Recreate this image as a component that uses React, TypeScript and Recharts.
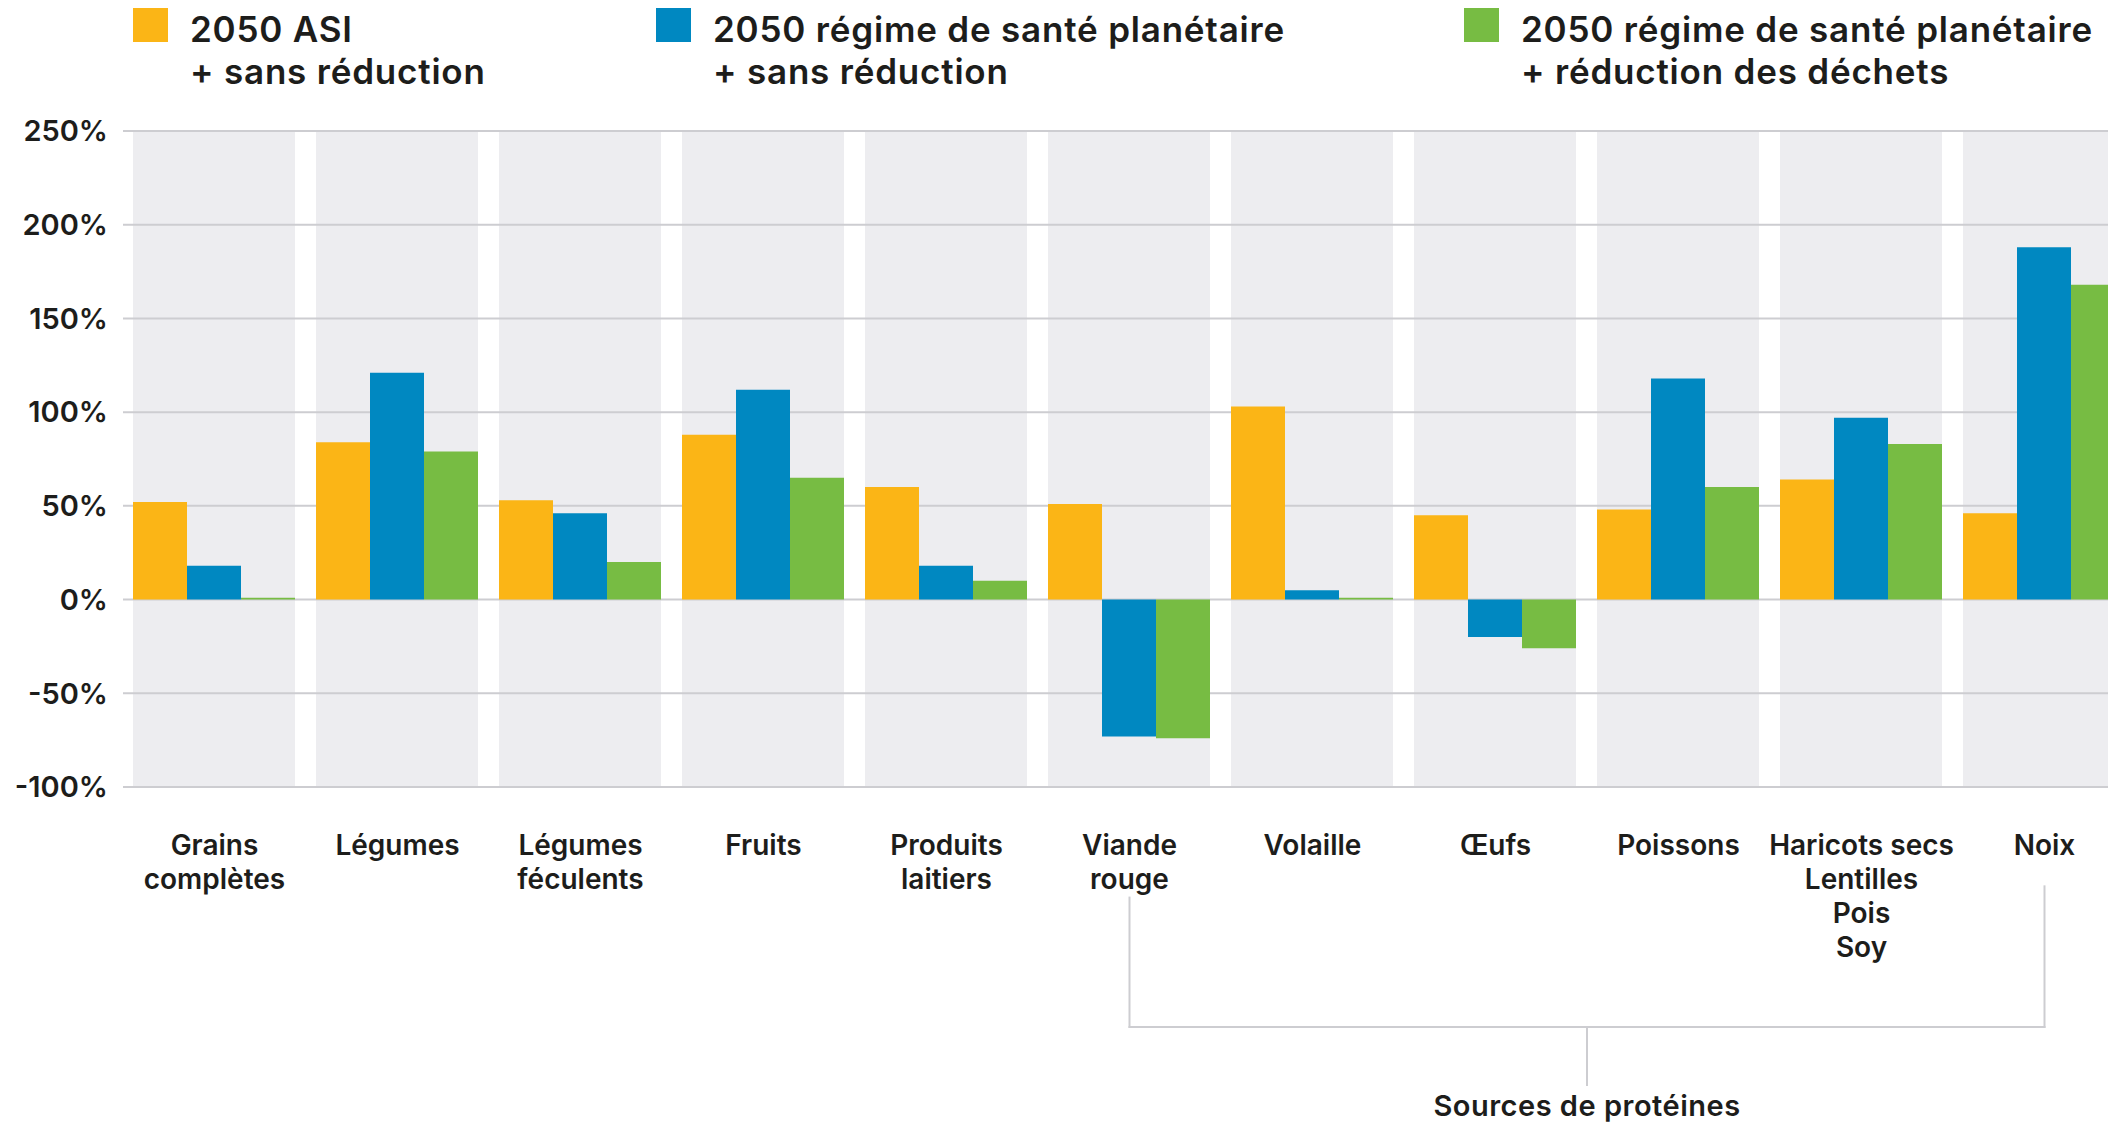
import { BarChart, Bar, XAxis, YAxis, CartesianGrid, ReferenceLine } from 'recharts'

const CATEGORIES = [
    'Grains\ncomplètes',
    'Légumes',
    'Légumes\nféculents',
    'Fruits',
    'Produits\nlaitiers',
    'Viande\nrouge',
    'Volaille',
    'Œufs',
    'Poissons',
    'Haricots secs\nLentilles\nPois\nSoy',
    'Noix',
]

// % change vs. 2010
const ASI_NO_REDUCTION = [52, 84, 53, 88, 60, 51, 103, 45, 48, 64, 46]
const PLANETARY_NO_REDUCTION = [18, 121, 46, 112, 18, -73, 5, -20, 118, 97, 188]
const PLANETARY_WASTE_REDUCTION = [1, 79, 20, 65, 10, -74, 1, -26, 60, 83, 168]

const Y_TICKS = [-100, -50, 0, 50, 100, 150, 200, 250]

// "Sources de protéines" bracket, in y-axis units below the plot
const PROTEIN_FIRST = CATEGORIES[5]
const PROTEIN_LAST = CATEGORIES[10]
const PROTEIN_CENTER = CATEGORIES[7] // the bracket stem sits at the end of this band
const BRACKET_LEFT_TOP = -159
const BRACKET_RIGHT_TOP = -153
const BRACKET_BAR = -228
const BRACKET_STEM_END = -259

const ORANGE = '#fbb516'
const BLUE = '#0088c1'
const GREEN = '#77bc43'
const BAND = '#ededf0'
const GRID = '#cdcdd1'
const INK = '#1d1d1b'
const FONT = 'Inter, "Noto Sans", sans-serif'

const SERIES = [
    { key: 'asi', color: ORANGE, legendX: 125, lines: ['2050 ASI', '+ sans réduction'] },
    { key: 'planetary', color: BLUE, legendX: 648, lines: ['2050 régime de santé planétaire', '+ sans réduction'] },
    { key: 'planetaryWaste', color: GREEN, legendX: 1456, lines: ['2050 régime de santé planétaire', '+ réduction des déchets'] },
]

const rows = CATEGORIES.map((name, i) => ({
    name,
    asi: ASI_NO_REDUCTION[i],
    planetary: PLANETARY_NO_REDUCTION[i],
    planetaryWaste: PLANETARY_WASTE_REDUCTION[i],
}))

const CHART_W = 2128
const CHART_H = 1119
const MARGIN = { top: 123, right: 0, bottom: 0, left: 0 }
const Y_AXIS_W = 115
const X_AXIS_H = 340

function formatPercent(value: number) {
    return `${value}%`
}

function CategoryTick({ x, y, payload }: any) {
    const lines = String(payload.value).split('\n')
    return (
        <text x={x} y={y} textAnchor="middle" fill={INK} fontSize={28} fontWeight={600} fontFamily={FONT}>
            {lines.map((line, i) => (
                <tspan key={i} x={x} dy={i === 0 ? 68 : 34}>
                    {line}
                </tspan>
            ))}
        </text>
    )
}

function Legend() {
    return (
        <>
            {SERIES.map((s) => (
                <div key={s.key} style={{ position: 'absolute', left: s.legendX, top: 0 }}>
                    <div style={{ position: 'absolute', left: 0, top: 0, width: 35, height: 34, background: s.color }} />
                    <div
                        style={{
                            position: 'absolute',
                            left: 57,
                            top: 0,
                            whiteSpace: 'nowrap',
                            fontSize: 35,
                            lineHeight: '42px',
                            fontWeight: 600,
                            letterSpacing: 0.8,
                            color: INK,
                        }}
                    >
                        {s.lines.map((line) => (
                            <div key={line}>{line}</div>
                        ))}
                    </div>
                </div>
            ))}
        </>
    )
}

const bracketStroke = { stroke: GRID, strokeWidth: 2, strokeLinecap: 'square' as const }

export default function App() {
    return (
        <div style={{ position: 'relative', width: 2108, height: 1119, overflow: 'hidden', fontFamily: FONT }}>
            {/* grey category bands sit underneath the grid */}
            <div style={{ position: 'absolute', left: 0, top: 0 }}>
                <BarChart width={CHART_W} height={CHART_H} data={rows} margin={MARGIN} barCategoryGap={10} barGap={0}>
                    <XAxis dataKey="name" height={X_AXIS_H} interval={0} tick={false} axisLine={false} tickLine={false} />
                    <YAxis width={Y_AXIS_W} domain={[-100, 250]} ticks={Y_TICKS} tick={false} axisLine={false} tickLine={false} />
                    {SERIES.map((s) => (
                        <Bar key={s.key} dataKey={s.key} fill="transparent" background={{ fill: BAND }} isAnimationActive={false} />
                    ))}
                </BarChart>
            </div>

            <div style={{ position: 'absolute', left: 0, top: 0 }}>
                <BarChart width={CHART_W} height={CHART_H} data={rows} margin={MARGIN} barCategoryGap={10} barGap={0}>
                    <CartesianGrid vertical={false} stroke={GRID} strokeWidth={2} />
                    <XAxis
                        dataKey="name"
                        height={X_AXIS_H}
                        interval={0}
                        axisLine={false}
                        tickLine={false}
                        tickSize={0}
                        tickMargin={0}
                        tick={<CategoryTick />}
                    />
                    <YAxis
                        width={Y_AXIS_W}
                        domain={[-100, 250]}
                        ticks={Y_TICKS}
                        axisLine={false}
                        tickLine={false}
                        tickSize={0}
                        tickMargin={15}
                        tickFormatter={formatPercent}
                        tick={{ fill: INK, fontSize: 29, fontWeight: 600, fontFamily: FONT }}
                    />
                    {SERIES.map((s) => (
                        <Bar key={s.key} dataKey={s.key} fill={s.color} isAnimationActive={false} />
                    ))}

                    <ReferenceLine
                        ifOverflow="visible"
                        segment={[
                            { x: PROTEIN_FIRST, y: BRACKET_LEFT_TOP },
                            { x: PROTEIN_FIRST, y: BRACKET_BAR },
                        ]}
                        {...bracketStroke}
                    />
                    <ReferenceLine
                        ifOverflow="visible"
                        segment={[
                            { x: PROTEIN_LAST, y: BRACKET_RIGHT_TOP },
                            { x: PROTEIN_LAST, y: BRACKET_BAR },
                        ]}
                        {...bracketStroke}
                    />
                    <ReferenceLine
                        ifOverflow="visible"
                        segment={[
                            { x: PROTEIN_FIRST, y: BRACKET_BAR },
                            { x: PROTEIN_LAST, y: BRACKET_BAR },
                        ]}
                        {...bracketStroke}
                    />
                    <ReferenceLine
                        ifOverflow="visible"
                        position="end"
                        segment={[
                            { x: PROTEIN_CENTER, y: BRACKET_BAR },
                            { x: PROTEIN_CENTER, y: BRACKET_STEM_END },
                        ]}
                        {...bracketStroke}
                        label={{
                            value: 'Sources de protéines',
                            position: 'bottom',
                            offset: 10,
                            fill: INK,
                            fontSize: 29,
                            fontWeight: 600,
                            letterSpacing: 0.5,
                            fontFamily: FONT,
                        }}
                    />
                </BarChart>
            </div>

            <Legend />
        </div>
    )
}
